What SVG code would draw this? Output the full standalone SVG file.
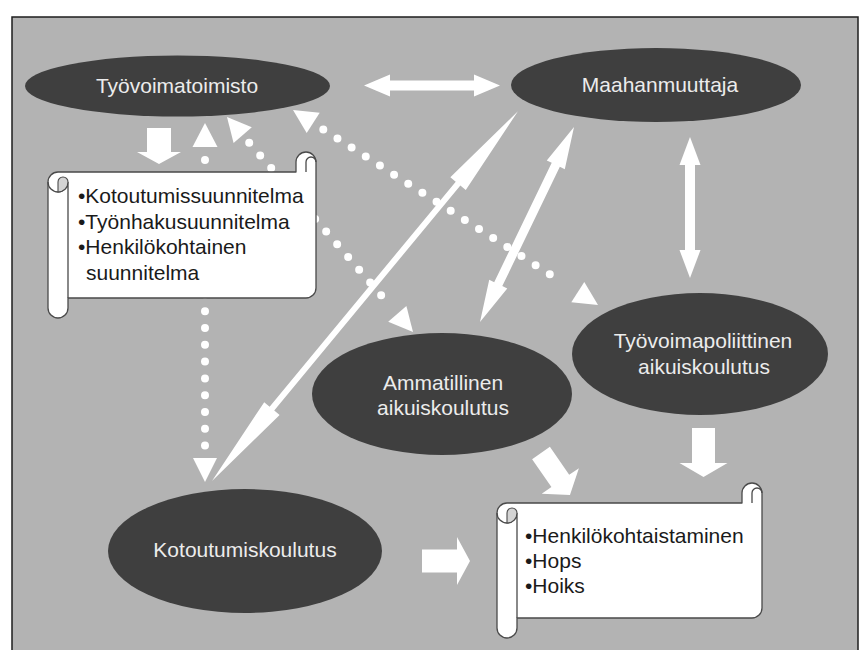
<svg xmlns="http://www.w3.org/2000/svg" width="865" height="650" viewBox="0 0 865 650">
<style>
.bg{fill:#b3b3b3;stroke:#1e1e1e;stroke-width:1.5}
.ell{fill:#3f3f3f}
.et{font-family:"Liberation Sans",Arial,sans-serif;font-size:21px;fill:#ececec;text-anchor:middle}
.st{font-family:"Liberation Sans",Arial,sans-serif;font-size:21px;fill:#1a1a1a}
.scroll{fill:#ffffff;stroke:#4a4a4a;stroke-width:1.3;stroke-linejoin:round}
.sline{fill:none;stroke:#4a4a4a;stroke-width:1.3}
.curl{fill:#d4d4d4;stroke:#4a4a4a;stroke-width:1.1}
.dots{fill:none;stroke:#ffffff;stroke-width:8;stroke-linecap:round;stroke-dasharray:0 16.8}
.wa{fill:#ffffff}
</style>
<rect class="bg" x="12" y="17" width="846" height="645"/>
<g id="connectors">
  <path class="dots" d="M205,160 V446"/>
  <polygon class="wa" points="205,123 217.5,147 192.5,147"/>
  <polygon class="wa" points="205,482 193,458 217,458"/>
  <path class="dots" d="M249.2,142.7 L392.1,307.8"/>
  <polygon class="wa" points="227,117 233.6,143 251.8,127.3"/>
  <polygon class="wa" points="413,332 388.2,321.8 406.4,306.1"/>
  <path class="dots" d="M323.3,129.4 L563.9,283.2"/>
  <polygon class="wa" points="293,110 306.7,133 319.7,112.8"/>
  <polygon class="wa" points="598,305 571.3,302.2 584.3,282"/>
  <polygon class="wa" transform="translate(212,481) rotate(-50.4)" points="0,0 94,-10 94,-3 386,-3 386,-10 480,0 386,10 386,3 94,3 94,10"/>
  <polygon class="wa" transform="translate(480,322) rotate(-64.26)" points="0,0 42,-10 42,-4.5 174.5,-4.5 174.5,-10 216.5,0 174.5,10 174.5,4.5 42,4.5 42,10"/>
  <polygon class="wa" points="690,137 700.5,165 695,165 695,250 700.5,250 690,278 679.5,250 685,250 685,165 679.5,165"/>
  <polygon class="wa" points="364,85.5 390,74.5 390,80.5 474,80.5 474,74.5 500,85.5 474,96.5 474,90.5 390,90.5 390,96.5"/>
  <polygon class="wa" points="147,128 171,128 171,152 181,152 159,164 137,152 147,152"/>
  <polygon class="wa" points="692,428 715,428 715,463 727.5,463 703.5,477 679.5,463 692,463"/>
  <polygon class="wa" points="422,549.5 457,549.5 457,537 470,561 457,585 457,572.5 422,572.5"/>
  <polygon class="wa" transform="translate(541,453) rotate(55.4)" points="0,-10.8 34,-10.8 34,-22.6 51,0 34,22.6 34,10.8 0,10.8"/>
</g>
<g id="tyovoimatoimisto">
  <ellipse class="ell" cx="177.5" cy="86" rx="152.5" ry="30.5"/>
  <text class="et" x="177" y="93">Työvoimatoimisto</text>
</g>
<g id="maahanmuuttaja">
  <ellipse class="ell" cx="656" cy="85" rx="145" ry="37"/>
  <text class="et" x="660" y="92">Maahanmuuttaja</text>
</g>
<g id="tyovoimapoliittinen">
  <ellipse class="ell" cx="700" cy="354" rx="128" ry="61"/>
  <text class="et" x="703" y="348">Työvoimapoliittinen</text>
  <text class="et" x="704" y="374">aikuiskoulutus</text>
</g>
<g id="ammatillinen">
  <ellipse class="ell" cx="442" cy="394" rx="130" ry="61"/>
  <text class="et" x="443" y="390">Ammatillinen</text>
  <text class="et" x="443" y="415">aikuiskoulutus</text>
</g>
<g id="kotoutumiskoulutus">
  <ellipse class="ell" cx="245" cy="551" rx="137" ry="62"/>
  <text class="et" x="245" y="557">Kotoutumiskoulutus</text>
</g>
<g id="suunnitelmat">
  <path class="scroll" d="M58,172 L296,172 L296,162 A10,10 0 0 1 316,162 L316,288 A10,10 0 0 1 306,298 L68,298 L68,308 A10,10 0 0 1 48,308 L48,182 A10,10 0 0 1 58,172 Z"/>
  <path class="sline" d="M306,172 V162 A5,5 0 0 1 316,162 M68,182 A10,10 0 0 1 48,182 M68,182 V298"/>
  <path class="curl" d="M58,192 A10,10 0 0 0 68,182 A5,5 0 0 0 58,182 Z"/>
  <text class="st" x="78" y="203">•Kotoutumissuunnitelma</text>
  <text class="st" x="78" y="228.5">•Työnhakusuunnitelma</text>
  <text class="st" x="78" y="254">•Henkilökohtainen</text>
  <text class="st" x="86" y="279.5">suunnitelma</text>
</g>
<g id="henkilokohtaistaminen">
  <path class="scroll" d="M507,503 L742,503 L742,493 A10,10 0 0 1 762,493 L762,608 A10,10 0 0 1 752,618 L517,618 L517,628 A10,10 0 0 1 497,628 L497,513 A10,10 0 0 1 507,503 Z"/>
  <path class="sline" d="M752,503 V493 A5,5 0 0 1 762,493 M517,513 A10,10 0 0 1 497,513 M517,513 V618"/>
  <path class="curl" d="M507,523 A10,10 0 0 0 517,513 A5,5 0 0 0 507,513 Z"/>
  <text class="st" x="525" y="543">•Henkilökohtaistaminen</text>
  <text class="st" x="525" y="568">•Hops</text>
  <text class="st" x="525" y="593">•Hoiks</text>
</g>
</svg>
